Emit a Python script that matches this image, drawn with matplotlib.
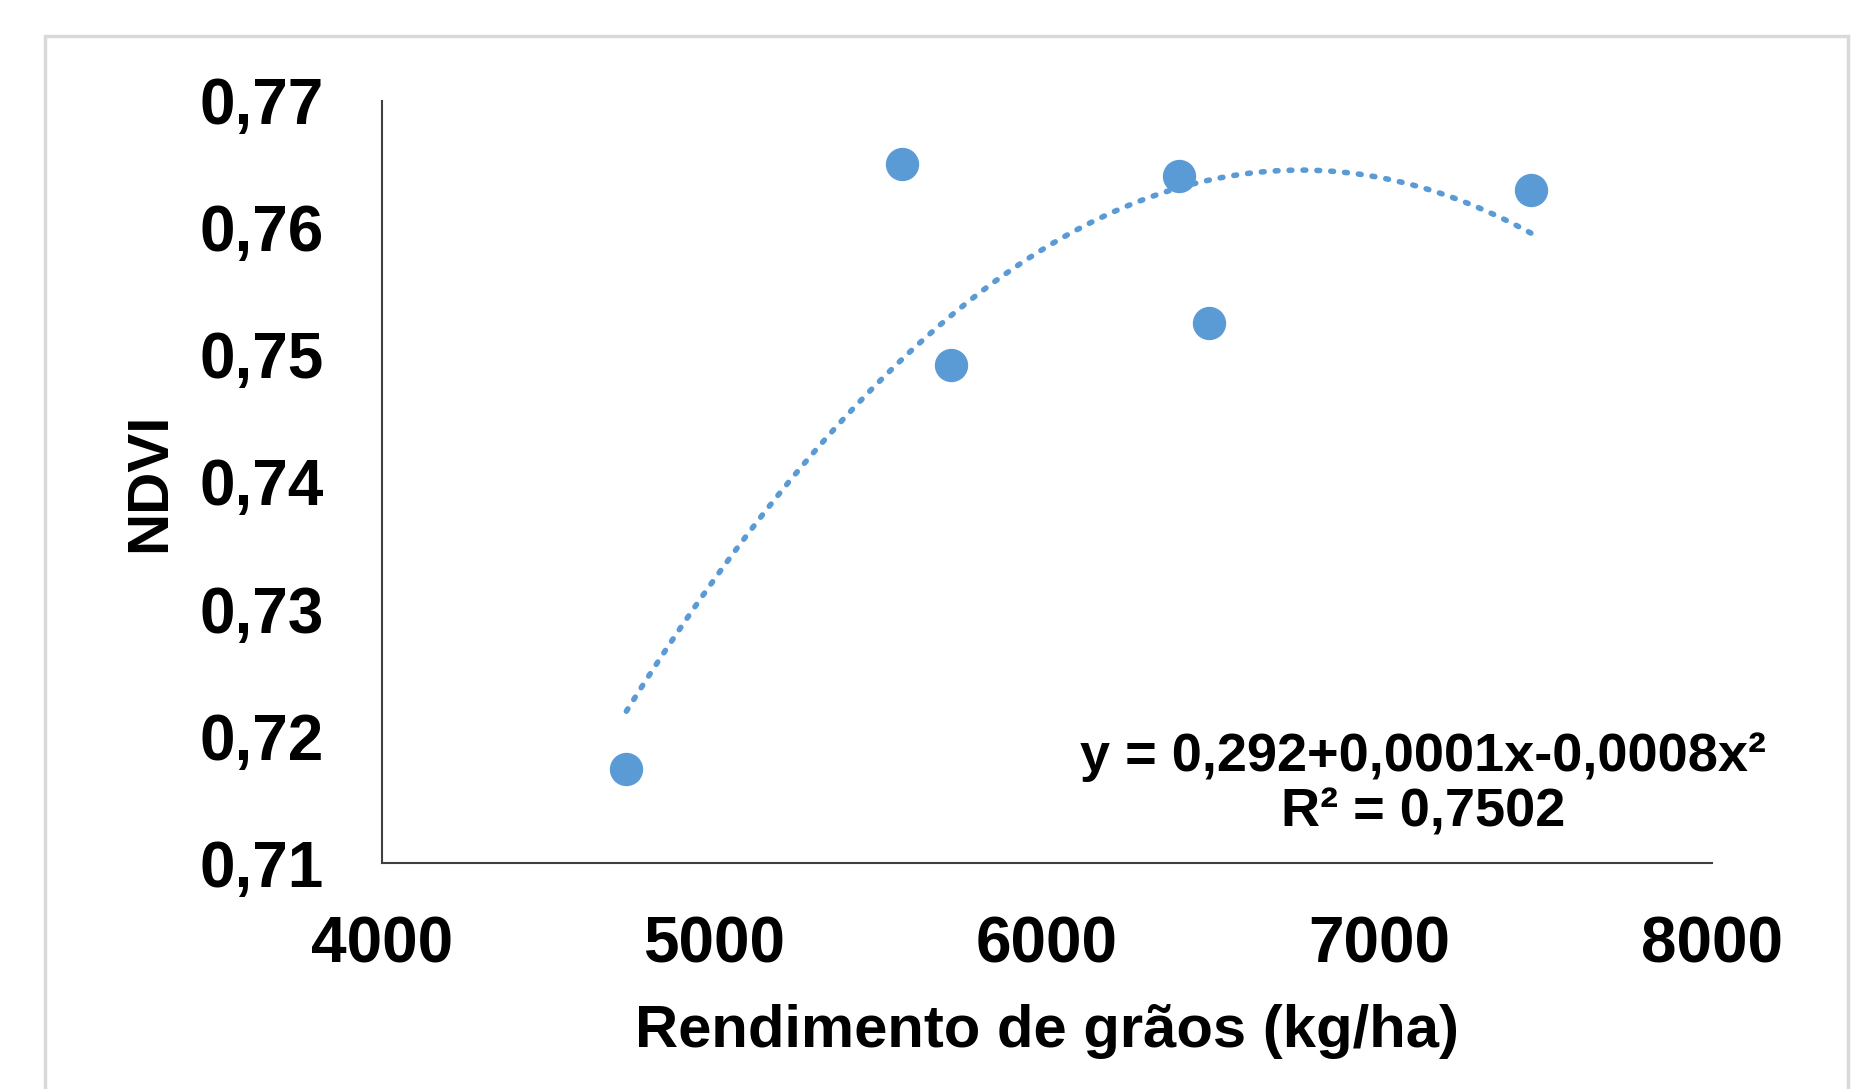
import numpy as np
import matplotlib.pyplot as plt
from matplotlib.patches import Rectangle

# Dados
rendimento = [4735, 5563, 5710, 6398, 6487, 7455]
ndvi = [0.7174, 0.7650, 0.7492, 0.7641, 0.7525, 0.7630]

x_ticks = [4000, 5000, 6000, 7000, 8000]
y_ticks = [0.71, 0.72, 0.73, 0.74, 0.75, 0.76, 0.77]
y_tick_labels = ["0,71", "0,72", "0,73", "0,74", "0,75", "0,76", "0,77"]

equacao = "y = 0,292+0,0001x-0,0008x²\nR² = 0,7502"

azul = "#5B9BD5"
plt.rcParams['font.family'] = ['Liberation Sans', 'DejaVu Sans']
plt.rcParams['font.weight'] = 'bold'

fig = plt.figure(figsize=(18.66, 10.89), dpi=100)
fig.patches.append(Rectangle((45 / 1866, -0.05), (1848 - 45) / 1866, 1.05 - 36 / 1089,
                             transform=fig.transFigure, fill=False,
                             edgecolor="#D9D9D9", linewidth=2.5))

ax = fig.add_axes([0.2047, 0.2075, 0.9175 - 0.2047, 0.9073 - 0.2075])

# Linha de tendência polinomial (ordem 2)
coef = np.polyfit(rendimento, ndvi, 2)
xs = np.linspace(min(rendimento), max(rendimento), 200)
ax.plot(xs, np.polyval(coef, xs), color=azul, linewidth=4.0,
        linestyle=(0, (0.5, 2.0)), dash_capstyle='round', zorder=2)

ax.plot(rendimento, ndvi, 'o', color=azul, markersize=23, zorder=3)

ax.set_xlim(4000, 8000)
ax.set_ylim(0.71, 0.77)
ax.set_xticks(x_ticks)
ax.set_xticklabels([str(t) for t in x_ticks])
ax.set_yticks(y_ticks)
ax.set_yticklabels(y_tick_labels)
ax.tick_params(length=0, labelsize=46, pad=38)
ax.tick_params(axis='y', pad=42)

for s in ['top', 'right']:
    ax.spines[s].set_visible(False)
for s in ['left', 'bottom']:
    ax.spines[s].set_color('#404040')
    ax.spines[s].set_linewidth(1.5)

ax.set_xlabel("Rendimento de grãos (kg/ha)", fontsize=43, fontweight='bold', labelpad=20)
ax.set_ylabel("NDVI", fontsize=42, fontweight='bold', labelpad=16)

ax.text(0.783, 0.103, equacao, transform=ax.transAxes, ha='center', va='center',
        fontsize=39, fontweight='bold', multialignment='center', linespacing=1.15)

fig.savefig("out.png", dpi=100)
